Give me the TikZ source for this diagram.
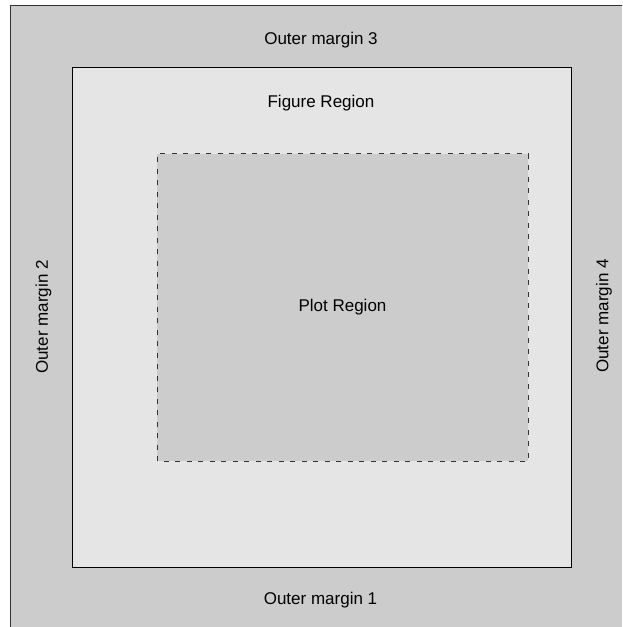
\documentclass[tikz,border=0pt]{standalone}
\usepackage{fontspec}
\setmainfont{Liberation Sans}
\definecolor{outergray}{HTML}{CCCCCC}
\definecolor{figgray}{HTML}{E5E5E5}
\definecolor{plotgray}{HTML}{CCCCCC}
\definecolor{edgegray}{HTML}{333333}
\tikzset{
  lbl/.style={inner sep=0pt, font=\fontsize{17}{20}\selectfont, text=black},
  outerbox/.style={fill=outergray, draw=none},
  figbox/.style={fill=figgray, draw=black, line width=1pt},
  plotbox/.style={fill=plotgray, draw=edgegray, line width=1pt, dash pattern=on 5pt off 6.5pt},
}
\begin{document}
\begin{tikzpicture}[x=1pt,y=1pt]
\useasboundingbox (0,0) rectangle (622,627);
\fill[white] (0,0) rectangle (622,627);
% outer region
\fill[outergray] (10,0) rectangle (622,621);
\draw[edgegray, line width=1pt] (10,0) -- (10,621) -- (622,621);
% figure region
\draw[figbox] (72,59) rectangle (571,559);
% plot region
\draw[plotbox] (157,165.5) rectangle (528,473);
% labels
\node[lbl] (om3) at (321,586.5) {Outer margin 3};
\node[lbl] (om1) at (320.5,26.5) {Outer margin 1};
\node[lbl, rotate=90] (om2) at (43.5,310) {Outer margin 2};
\node[lbl, rotate=90] (om4) at (604,311) {Outer margin 4};
\node[lbl] (fr) at (321,523.5) {Figure Region};
\node[lbl] (pr) at (342.5,320) {Plot Region};
\end{tikzpicture}
\end{document}
